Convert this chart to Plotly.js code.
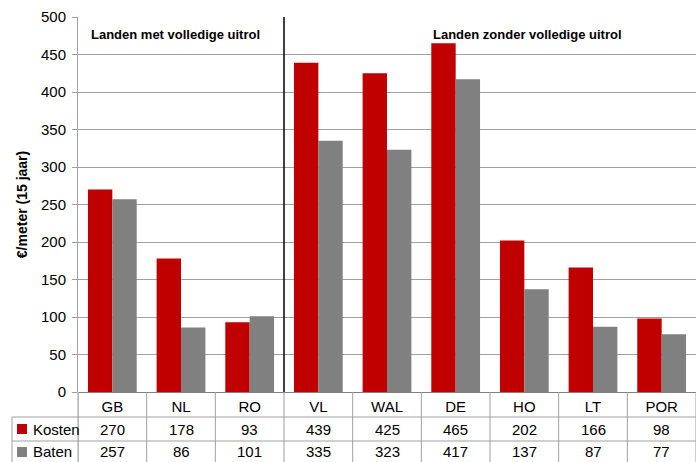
<!DOCTYPE html>
<html><head><meta charset="utf-8">
<script src="https://cdn.plot.ly/plotly-3.0.1.min.js"></script>
<style>body{margin:0;padding:0;background:#fff}#c{width:696px;height:462px}</style>
</head><body><div id="c"></div>
<script>
const categories = ["GB","NL","RO","VL","WAL","DE","HO","LT","POR"];
const kosten = [270,178,93,439,425,465,202,166,98];
const baten = [257,86,101,335,323,417,137,87,77];
const seriesNames = ["Kosten","Baten"];
const groupLabels = ["Landen met volledige uitrol","Landen zonder volledige uitrol"];
const yTitle = "€/meter (15 jaar)";

const RED = "#C00000", GREY = "#808080", LINE = "#A0A0A0";
const FONT = "Liberation Sans, Arial, sans-serif";
const plotH = 375; // px height of plot area
const py = px => -px / plotH; // paper y below axis

const traces = [
  {type:"bar", name:seriesNames[0], x:categories, y:kosten, marker:{color:RED, line:{width:0}}, showlegend:false, hoverinfo:"none"},
  {type:"bar", name:seriesNames[1], x:categories, y:baten, marker:{color:GREY, line:{width:0}}, showlegend:false, hoverinfo:"none"}
];

const shapes = [];
const annotations = [];
// divider line between groups
shapes.push({type:"line", xref:"x", yref:"paper", x0:2.5, x1:2.5, y0:0, y1:1, line:{color:"#000", width:1.5}});
// table vertical lines
for (let i = 0; i <= categories.length; i++) {
  shapes.push({type:"line", xref:"x", yref:"paper", x0:i-0.5, x1:i-0.5, y0:0, y1:py(75), line:{color:LINE, width:1}});
}
// table horizontal lines (extend to legend column)
[25, 49].forEach(d => {
  shapes.push({type:"line", xref:"paper", yref:"paper", x0:-66/618, x1:1, y0:py(d), y1:py(d), line:{color:LINE, width:1}});
});
// legend column left line
shapes.push({type:"line", xref:"paper", yref:"paper", x0:-66/618, x1:-66/618, y0:py(25), y1:py(75), line:{color:LINE, width:1}});
// left axis line extended into table
shapes.push({type:"line", xref:"paper", yref:"paper", x0:0, x1:0, y0:0, y1:py(75), line:{color:LINE, width:1}});

// legend keys + names
const rowCenters = [37, 60];
const colors = [RED, GREY];
const rows = [kosten, baten];
rowCenters.forEach((c, r) => {
  shapes.push({type:"rect", xref:"paper", yref:"paper", x0:-61/618, x1:-51/618, y0:py(c-5), y1:py(c+5), fillcolor:colors[r], line:{width:0}});
  annotations.push({xref:"paper", yref:"paper", x:-47/618, y:py(c), xanchor:"left", yanchor:"middle", text:seriesNames[r], showarrow:false, font:{family:FONT, size:15, color:"#000"}});
  categories.forEach((cat, i) => {
    annotations.push({xref:"x", yref:"paper", x:cat, y:py(c), xanchor:"center", yanchor:"middle", text:String(rows[r][i]), showarrow:false, font:{family:FONT, size:15, color:"#000"}});
  });
});
// group labels
const gy = 1 - 17/plotH;
annotations.push({xref:"x", yref:"paper", x:0.92, y:gy, xanchor:"center", yanchor:"middle", text:"<b>"+groupLabels[0]+"</b>", showarrow:false, font:{family:FONT, size:13, color:"#000"}});
annotations.push({xref:"x", yref:"paper", x:6.04, y:gy, xanchor:"center", yanchor:"middle", text:"<b>"+groupLabels[1]+"</b>", showarrow:false, font:{family:FONT, size:13, color:"#000"}});

const layout = {
  width:696, height:462,
  margin:{l:78, r:0, t:17, b:70, pad:0},
  paper_bgcolor:"#fff", plot_bgcolor:"#fff",
  barmode:"group", bargap:0.29, bargroupgap:0,
  font:{family:FONT, size:15, color:"#000"},
  xaxis:{type:"category", range:[-0.5, 8.5], showgrid:false, zeroline:false, showline:false, ticks:"", tickfont:{family:FONT, size:15, color:"#000"}, ticklabelstandoff:4, fixedrange:true},
  yaxis:{range:[0,500], dtick:50, tick0:0, showgrid:true, gridcolor:LINE, gridwidth:1, zeroline:true, zerolinecolor:"#808080", zerolinewidth:1, showline:true, linecolor:"#A0A0A0", linewidth:1, ticks:"outside", ticklen:5, tickcolor:LINE, tickfont:{family:FONT, size:15, color:"#000"}, ticklabelstandoff:3,
    title:{text:"<b>"+yTitle+"</b>", font:{family:FONT, size:14, color:"#000"}, standoff:10}, fixedrange:true},
  shapes:shapes, annotations:annotations
};
Plotly.newPlot("c", traces, layout, {displayModeBar:false, staticPlot:true});
</script></body></html>
